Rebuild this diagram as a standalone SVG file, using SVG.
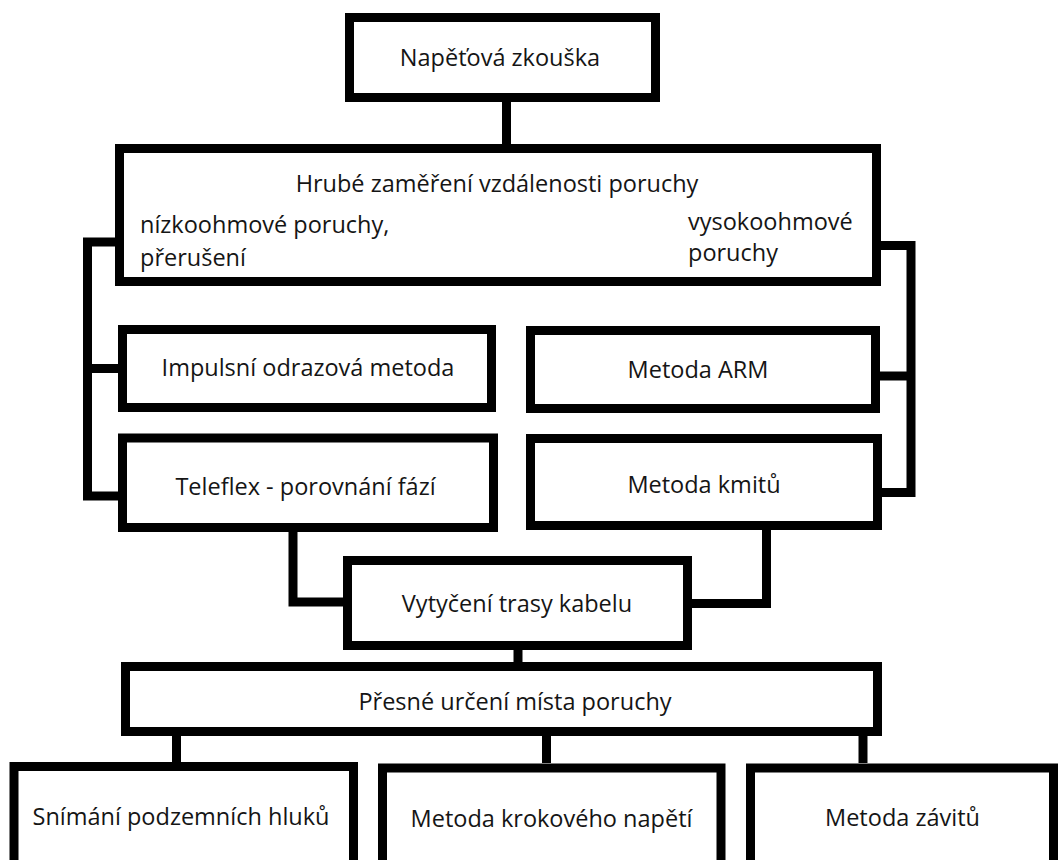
<svg xmlns="http://www.w3.org/2000/svg" width="1061" height="860" viewBox="0 0 1061 860">
<style>
.box{fill:#fff;stroke:#000;stroke-width:9}
.con{fill:none;stroke:#000;stroke-width:9;stroke-linejoin:miter}
.t{font-family:"Open Sans","Liberation Sans",sans-serif;font-size:23.5px;fill:#151515}
.c{text-anchor:middle}
</style>
<rect width="1061" height="860" fill="#fff"/>
<g id="connectors">
<path class="con" d="M506.5,102 V144"/>
<path class="con" d="M115,242 H87.5 V496 H118"/>
<path class="con" d="M87.5,368.5 H118"/>
<path class="con" d="M881,245.5 H911 V492.5 H882"/>
<path class="con" d="M911,376 H880"/>
<path class="con" d="M293,532 V602 H343"/>
<path class="con" d="M766.5,530 V603.5 H692"/>
<path class="con" d="M518,650 V662"/>
<path class="con" d="M176.5,736 V762"/>
<path class="con" d="M546.5,736 V763"/>
<path class="con" d="M863,736 V763"/>
</g>
<g id="napetova">
<rect class="box" x="349.5" y="17.5" width="306" height="80"/>
<text class="t c" x="500" y="66">Napěťová zkouška</text>
</g>
<g id="hrube">
<rect class="box" x="119.5" y="148.5" width="757" height="133"/>
<text class="t c" x="497" y="192">Hrubé zaměření vzdálenosti poruchy</text>
<text class="t" x="140" y="233">nízkoohmové poruchy,</text>
<text class="t" x="140" y="265.5">přerušení</text>
<text class="t" x="688" y="229.5">vysokoohmové</text>
<text class="t" x="688" y="261">poruchy</text>
</g>
<g id="impulsni">
<rect class="box" x="122.5" y="329.5" width="369" height="78"/>
<text class="t c" x="308" y="376">Impulsní odrazová metoda</text>
</g>
<g id="teleflex">
<rect class="box" x="122.5" y="438" width="371" height="89.5"/>
<text class="t c" x="305.5" y="495">Teleflex - porovnání fází</text>
</g>
<g id="arm">
<rect class="box" x="530.5" y="330.5" width="345" height="78"/>
<text class="t c" x="698" y="377.5">Metoda ARM</text>
</g>
<g id="kmitu">
<rect class="box" x="530.5" y="438.5" width="347" height="87"/>
<text class="t c" x="704" y="492.5">Metoda kmitů</text>
</g>
<g id="vytyceni">
<rect class="box" x="347.5" y="560.5" width="340" height="85"/>
<text class="t c" x="517" y="612">Vytyčení trasy kabelu</text>
</g>
<g id="presne">
<rect class="box" x="125.5" y="666.5" width="752" height="65"/>
<text class="t c" x="515" y="710">Přesné určení místa poruchy</text>
</g>
<g id="snimani">
<rect class="box" x="14" y="766.5" width="339.5" height="120"/>
<text class="t c" x="181" y="825">Snímání podzemních hluků</text>
</g>
<g id="krokoveho">
<rect class="box" x="382.5" y="768" width="338.5" height="120"/>
<text class="t c" x="551.5" y="826.5">Metoda krokového napětí</text>
</g>
<g id="zavitu">
<rect class="box" x="750.5" y="768" width="303" height="120"/>
<text class="t c" x="902.5" y="826">Metoda závitů</text>
</g>
</svg>
